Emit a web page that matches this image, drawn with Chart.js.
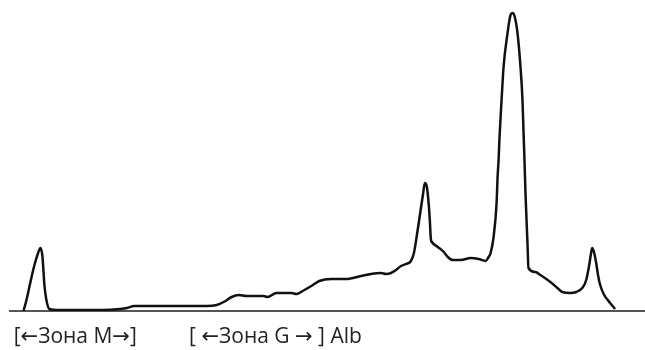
<!DOCTYPE html>
<html>
<head>
<meta charset="utf-8">
<script src="https://cdn.jsdelivr.net/npm/chart.js@4/dist/chart.umd.min.js"></script>
<style>
  html, body { margin: 0; padding: 0; background: #fff; }
  #wrap { width: 645px; height: 350px; position: relative; }
</style>
</head>
<body>
<div id="wrap"><canvas id="c" width="645" height="350"></canvas></div>
<script>
// Migration distance (horizontal position along the strip)
const positions = [
  21, 24, 28, 32, 35, 38, 40, 41, 42, 44, 47, 55,
  80, 100, 118, 125, 132, 140, 160, 190, 205, 215, 222, 230, 237, 245, 255, 262, 266,
  275, 290, 295, 303, 310, 318, 330, 345, 360, 370, 380, 385, 390, 395, 400, 405, 410,
  413, 416, 419, 422, 424, 426, 428, 429, 430, 431, 437, 443, 447, 452, 460, 470, 478,
  485, 488, 490, 493, 496, 497, 498, 499, 501, 503, 507, 510, 512, 514, 517, 520, 522,
  523, 524, 525, 527, 528, 535, 540, 550, 557, 562, 570, 576, 582, 586, 589, 591, 592,
  594, 596, 598, 600, 604, 610, 615
];
// Optical density (trace height above baseline)
const density = [
  0, 11, 29, 46, 56, 63, 55, 41, 26, 11, 2, 1,
  1, 1, 2, 3, 5, 5, 5, 5, 5, 6, 9, 14, 16, 15, 15, 15, 14,
  18, 18, 17, 21, 25, 30, 32, 32, 35, 37, 38, 37, 38, 41, 45, 47, 50,
  58, 76, 96, 116, 128, 124, 105, 90, 72, 69, 64, 59, 54, 51, 51, 53, 52,
  50, 54, 58, 74, 108, 134, 151, 175, 211, 244, 278, 296, 298, 295, 278, 244, 211,
  180, 151, 118, 68, 43, 39, 36, 29, 23, 19, 18, 19, 23, 31, 46, 59, 63,
  58, 48, 35, 26, 16, 8, 2
];
// Zone labels under the baseline
const zoneLabels = ["[\u2190\u0417\u043e\u043d\u0430 M\u2192]", "[ \u2190\u0417\u043e\u043d\u0430 G \u2192 ] Alb"];
const zoneCenters = [73, 274];

new Chart(document.getElementById('c'), {
  type: 'line',
  data: {
    datasets: [{
      data: positions.map((x, i) => ({ x: x, y: density[i] })),
      borderColor: '#111',
      borderWidth: 2.5,
      pointRadius: 0,
      fill: false,
      cubicInterpolationMode: 'monotone'
    }]
  },
  options: {
    responsive: false,
    animation: false,
    events: [],
    layout: { padding: { left: 7, right: 0, top: 0, bottom: 0 } },
    plugins: { legend: { display: false }, tooltip: { enabled: false } },
    scales: {
      x: {
        type: 'linear',
        min: 7,
        max: 645,
        grid: { display: false, drawTicks: false },
        border: { display: true, color: '#555', width: 2 },
        afterBuildTicks: (axis) => { axis.ticks = zoneCenters.map(v => ({ value: v })); },
        afterFit: (axis) => { axis.height = 39; },
        ticks: {
          autoSkip: false,
          maxRotation: 0,
          padding: 13,
          color: '#222',
          font: { family: "'Open Sans', 'DejaVu Sans', sans-serif", size: 21 },
          callback: (v) => { const i = zoneCenters.indexOf(v); return i >= 0 ? zoneLabels[i] : ''; }
        }
      },
      y: { display: false, min: 0, max: 311 }
    }
  }
});
</script>
</body>
</html>
